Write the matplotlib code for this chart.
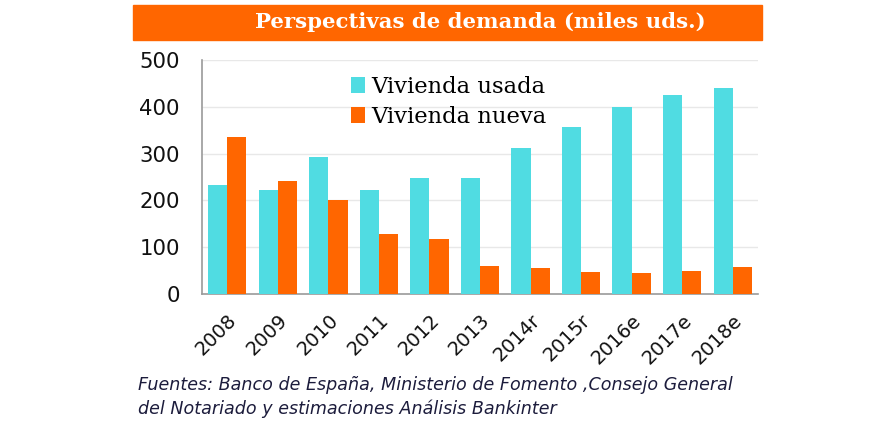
import numpy as np
import matplotlib
matplotlib.use("Agg")
import matplotlib.pyplot as plt
from matplotlib.patches import Rectangle

# Data (miles de unidades)
years = ['2008', '2009', '2010', '2011', '2012', '2013',
         '2014r', '2015r', '2016e', '2017e', '2018e']
usada = [232, 223, 292, 222, 248, 248, 312, 357, 399, 426, 440]
nueva = [335, 242, 200, 128, 117, 60, 55, 46, 45, 49, 58]

cyan = '#50dce2'
orange = '#ff6600'

fig = plt.figure(figsize=(8.9, 4.25), dpi=100)

# orange title banner
fig.patches.append(Rectangle((133 / 890, 1 - 40 / 425), (762 - 133) / 890, 35 / 425,
                             transform=fig.transFigure, color=orange, zorder=0))
fig.text(480 / 890, 1 - 22 / 425, 'Perspectivas de demanda (miles uds.)',
         color='white', fontsize=15.3, fontweight='bold', family='DejaVu Serif',
         ha='center', va='center')

ax = fig.add_axes([202 / 890, 1 - 294 / 425, 556 / 890, 234 / 425])
x = np.arange(len(years))
w = 0.38
ax.bar(x - w / 2, usada, w, color=cyan, label='Vivienda usada', zorder=3)
ax.bar(x + w / 2, nueva, w, color=orange, label='Vivienda nueva', zorder=3)

ax.set_xlim(-0.5, len(years) - 0.5)
ax.set_ylim(0, 500)
ax.set_yticks(range(0, 501, 100))
ax.yaxis.grid(True, color='#e8e8e8', linewidth=1, zorder=0)
ax.set_axisbelow(True)
for s in ['top', 'right']:
    ax.spines[s].set_visible(False)
for s in ['left', 'bottom']:
    ax.spines[s].set_color('#9a9a9a')
    ax.spines[s].set_linewidth(1.2)
ax.tick_params(axis='y', length=0, pad=16, labelsize=15.3, labelcolor='#111111')
ax.tick_params(axis='x', length=0, pad=12)
ax.set_xticks(x)
ax.set_xticklabels(years, rotation=45, ha='right', rotation_mode='anchor',
                   fontsize=14, color='#111111')

ax.legend(loc='upper left', bbox_to_anchor=(0.24, 1.0), frameon=False,
          prop={'family': 'DejaVu Serif', 'size': 16.3},
          handlelength=0.6, handleheight=0.7, handletextpad=0.3, labelspacing=0.35,
          borderaxespad=0.3)

fig.text(138 / 890, 1 - 385 / 425,
         'Fuentes: Banco de España, Ministerio de Fomento ,Consejo General',
         fontsize=12.6, style='italic', color='#1c1c3c', va='center')
fig.text(138 / 890, 1 - 409 / 425,
         'del Notariado y estimaciones Análisis Bankinter',
         fontsize=12.6, style='italic', color='#1c1c3c', va='center')

fig.savefig('out.png', dpi=100)
